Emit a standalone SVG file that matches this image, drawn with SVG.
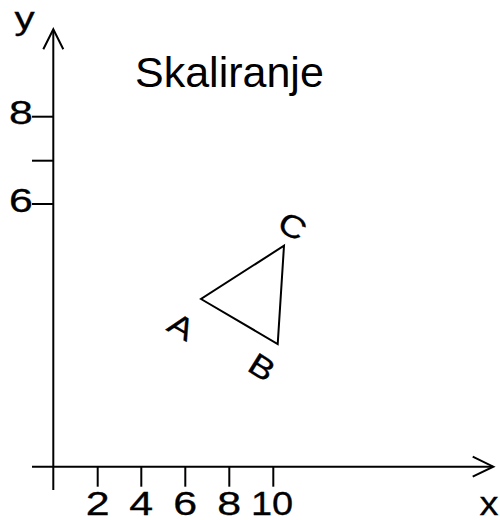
<svg xmlns="http://www.w3.org/2000/svg" width="500" height="520" viewBox="0 0 500 520">
<style>
.ln{stroke:#000;stroke-width:2;fill:none;stroke-linecap:butt}
.t{font-family:"Liberation Sans",Arial,sans-serif;fill:#000}
.b{stroke:#000;stroke-width:0.3}
.d{font-size:33px;text-anchor:middle}
.v{font-size:31px;text-anchor:middle}
</style>
<rect width="500" height="520" fill="#fff"/>
<g id="axes">
<line class="ln" x1="53.3" y1="30" x2="53.3" y2="490"/>
<polyline class="ln" points="43.3,49.3 53.3,29.3 63.3,49.3"/>
<line class="ln" x1="32" y1="466.7" x2="493" y2="466.7"/>
<polyline class="ln" points="472.7,456.7 493.3,466.7 472.7,476.7"/>
<g id="xticks">
<line class="ln" x1="97.7" y1="466.7" x2="97.7" y2="486.7"/>
<line class="ln" x1="141.3" y1="466.7" x2="141.3" y2="486.7"/>
<line class="ln" x1="185.3" y1="466.7" x2="185.3" y2="486.7"/>
<line class="ln" x1="229.3" y1="466.7" x2="229.3" y2="486.7"/>
<line class="ln" x1="273.3" y1="466.7" x2="273.3" y2="486.7"/>
</g>
<g id="yticks">
<line class="ln" x1="32" y1="116.7" x2="53.3" y2="116.7"/>
<line class="ln" x1="32" y1="160.7" x2="53.3" y2="160.7"/>
<line class="ln" x1="32" y1="204" x2="53.3" y2="204"/>
</g>
</g>
<g id="axis-labels">
<text class="t b" transform="translate(24.5,28.5) scale(1.3,1)" font-size="31" text-anchor="middle">y</text>
<text class="t b d" transform="translate(21,124.3) scale(1.3,1)">8</text>
<text class="t b d" transform="translate(21,212.3) scale(1.3,1)">6</text>
<text class="t b d" transform="translate(97.7,514.5) scale(1.3,1)">2</text>
<text class="t b d" transform="translate(141.3,514.5) scale(1.3,1)">4</text>
<text class="t b d" transform="translate(185.3,514.5) scale(1.3,1)">6</text>
<text class="t b d" transform="translate(229.3,514.5) scale(1.3,1)">8</text>
<text class="t b d" transform="translate(272,514.5) scale(1.15,1)">10</text>
<text class="t b d" transform="translate(489,514.5) scale(1.15,1)">x</text>
</g>
<text id="title" class="t" x="135" y="87.3" font-size="43">Skaliranje</text>
<g id="triangle">
<polygon class="ln" points="201,299 277.7,344 284,245.7"/>
</g>
<g id="vertex-labels">
<text class="t b v" transform="translate(181.5,326.5) rotate(30) scale(1.2,1)" y="11">A</text>
<text class="t b v" transform="translate(262,367) rotate(32) scale(1.2,1)" y="11">B</text>
<text class="t b v" transform="translate(292.7,226) rotate(30) scale(1.2,1)" y="11">C</text>
</g>
</svg>
